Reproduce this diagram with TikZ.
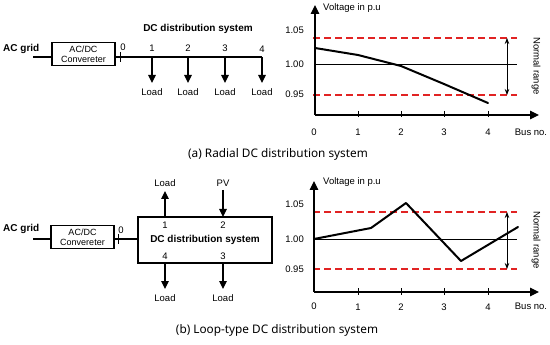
\documentclass[tikz,border=0pt]{standalone}
\usepackage{fontspec}
\setmainfont{Liberation Sans}
\newfontfamily\capfont{Noto Sans}
\usetikzlibrary{arrows.meta}
\definecolor{rngred}{RGB}{225,35,35}
\begin{document}
\begin{tikzpicture}[x=1pt,y=-1pt,
  lbl/.style={font=\fontsize{9.5}{11}\selectfont, inner sep=0},
  lblb/.style={font=\fontsize{10}{12}\selectfont\bfseries, inner sep=0},
  captxt/.style={font=\capfont\fontsize{11.8}{14}\selectfont, inner sep=0},
  convbox/.style={draw, line width=1.2pt, minimum width=63pt, minimum height=23pt, inner sep=0, align=center, font=\fontsize{9}{10}\selectfont},
  wire/.style={line width=1.2pt},
  arr/.style={line width=1.2pt, -{Triangle[length=8pt,width=7.5pt]}},
  axisarr/.style={line width=1.2pt, -{Triangle[length=9pt,width=8.5pt]}},
  tickln/.style={line width=1pt},
  rng/.style={draw=rngred, line width=1.1pt, dash pattern=on 7pt off 4pt},
  unity/.style={line width=0.8pt},
  curve/.style={line width=2pt, line join=round, line cap=round},
  nr/.style={line width=0.8pt, {Stealth[length=6pt,width=4.5pt]}-{Stealth[length=6pt,width=4.5pt]}}
]
\useasboundingbox (0,0) rectangle (550,345);

% ================= (a) =================
\node[lblb, anchor=west] (acga) at (3,49) {AC grid};
\coordinate (ina) at (33,57);
\node[convbox] (conva) at (83.5,54) {AC/DC\\Convereter};
\draw[wire] (ina) -- (conva.west |- ina);
\coordinate (a0) at (120,57);
\coordinate (a1) at (152,57);
\coordinate (a2) at (188,57);
\coordinate (a3) at (225,57);
\coordinate (a4) at (262,57);
\coordinate (la1) at (152,83);
\coordinate (la2) at (188,83);
\coordinate (la3) at (225,83);
\coordinate (la4) at (262,83);
\draw[wire] (conva.east |- a0) -- (a4);
\draw[arr] (a4) -- (la4);
\draw[tickln] ([yshift=5pt]a0) -- ([yshift=-5pt]a0);
\foreach \i in {1,2,3} {\draw[arr] (a\i) -- (la\i);}
\node[lbl] (na0) at (123,47) {0};
\node[lbl] (na1) at (152,48) {1};
\node[lbl] (na2) at (188,48) {2};
\node[lbl] (na3) at (225,48) {3};
\node[lbl] (na4) at (262,49) {4};
\foreach \i in {1,2,3,4} {\node[lbl] (lda\i) at ([yshift=-9pt]la\i) {Load};}
\node[lblb] (dcsa) at (198,29) {DC distribution system};

% plot (a)
\coordinate (oa) at (315,115);
\coordinate (ya) at (315,5);
\coordinate (xa) at (539,115);
\draw[rng] (313,38) -- (517,38);
\draw[rng] (313,95) -- (517,95);
\draw[unity] (315,64) -- (517,64);
\draw[axisarr] (oa) -- (ya);
\draw[axisarr] (oa) -- (xa);
\foreach \i/\x in {1/358,2/401,3/444,4/488} {
  \coordinate (ta\i) at (\x,115);
  \draw[tickln] ([yshift=4pt]ta\i) -- ([yshift=-2.5pt]ta\i);
  \node[lbl] (tla\i) at (\x,132) {\i};
}
\node[lbl] (tla0) at (314,132) {0};
\node[lbl] (busa) at (531,132) {Bus no.};
\node[lbl, anchor=east] (ya105) at (304,30) {1.05};
\node[lbl, anchor=east] (ya100) at (304,64) {1.00};
\node[lbl, anchor=east] (ya095) at (304,94) {0.95};
\node[lbl, anchor=west] (vola) at (323,8) {Voltage in p.u};
\draw[nr] (507,38) -- (507,95);
\node[lbl, rotate=-90] (nra) at (536,66) {Normal range};
\draw[curve] (315,48) -- (358,55) -- (401,66) -- (444,84) -- (488,103);

\node[captxt] (capa) at (278,154) {(a) Radial DC distribution system};

% ================= (b) =================
\node[lblb, anchor=west] (acgb) at (3,229) {AC grid};
\coordinate (inb) at (33,239);
\node[convbox] (convb) at (82.5,237) {AC/DC\\Convereter};
\draw[wire] (inb) -- (convb.west |- inb);
\node[draw, line width=1.2pt, minimum width=134pt, minimum height=46pt, inner sep=0] (dcb) at (205,240) {};
\node[lblb] (dcsb) at (205,240) {DC distribution system};
\coordinate (b0) at (118,239);
\draw[wire] (convb.east |- b0) -- (dcb.west |- b0);
\draw[tickln] ([yshift=5pt]b0) -- ([yshift=-5pt]b0);
\node[lbl] (nb0) at (121,230) {0};
\node[lbl] (nb1) at (165,225) {1};
\node[lbl] (nb2) at (223,225) {2};
\node[lbl] (nb4) at (165,256) {4};
\node[lbl] (nb3) at (223,256) {3};
\coordinate (t1) at (165,217);
\coordinate (t2) at (223,217);
\coordinate (u1) at (165,191);
\coordinate (u2) at (223,190);
\coordinate (d4) at (165,263);
\coordinate (d3) at (223,263);
\coordinate (e4) at (165,289);
\coordinate (e3) at (223,289);
\draw[arr] (t1) -- (u1);
\draw[arr] (u2) -- (t2);
\draw[arr] (d4) -- (e4);
\draw[arr] (d3) -- (e3);
\node[lbl] (ldb1) at (165,183) {Load};
\node[lbl] (pvb) at (223,183) {PV};
\node[lbl] (ldb4) at (165,298) {Load};
\node[lbl] (ldb3) at (223,298) {Load};

% plot (b)
\coordinate (ob) at (314,292);
\coordinate (yb) at (314,181);
\coordinate (xb) at (539,292);
\draw[rng] (313,212) -- (517,212);
\draw[rng] (313,269) -- (517,269);
\draw[unity] (314,239) -- (517,239);
\draw[axisarr] (ob) -- (yb);
\draw[axisarr] (ob) -- (xb);
\foreach \i/\x in {1/358,2/401,3/444,4/488} {
  \coordinate (tb\i) at (\x,292);
  \draw[tickln] ([yshift=4pt]tb\i) -- ([yshift=-2.5pt]tb\i);
  \node[lbl] (tlb\i) at (\x,307) {\i};
}
\node[lbl] (tlb0) at (314,306) {0};
\node[lbl] (busb) at (531,306) {Bus no.};
\node[lbl, anchor=east] (yb105) at (304,204) {1.05};
\node[lbl, anchor=east] (yb100) at (304,239) {1.00};
\node[lbl, anchor=east] (yb095) at (304,269) {0.95};
\node[lbl, anchor=west] (volb) at (323,182) {Voltage in p.u};
\draw[nr] (507,212) -- (507,269);
\node[lbl, rotate=-90] (nrb) at (536,240) {Normal range};
\draw[curve] (314,239) -- (371,228) -- (406,203) -- (461,261) -- (518,227);

\node[captxt] (capb) at (277,330) {(b) Loop-type DC distribution system};
\end{tikzpicture}
\end{document}
